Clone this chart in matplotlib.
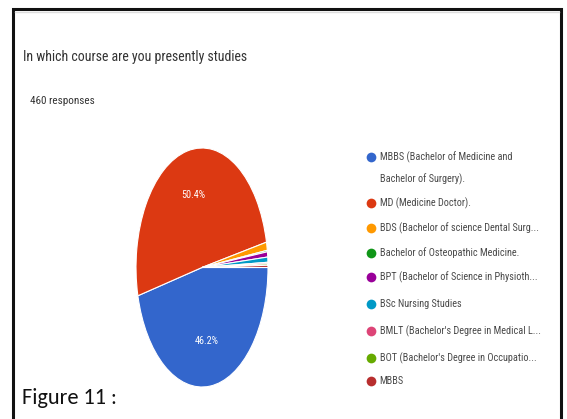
import math
import matplotlib.pyplot as plt

W, H = 567, 419

labels = [
    "MBBS (Bachelor of Medicine and\nBachelor of Surgery).",
    "MD (Medicine Doctor).",
    "BDS (Bachelor of science Dental Surg...",
    "Bachelor of Osteopathic Medicine.",
    "BPT (Bachelor of Science in Physioth...",
    "BSc Nursing Studies",
    "BMLT (Bachelor's Degree in Medical L...",
    "BOT (Bachelor's Degree in Occupatio...",
    "MBBS",
]
shares = [46.2, 50.4, 1.1, 0.2, 0.7, 0.7, 0.2, 0.2, 0.3]
colors = ["#3366CC", "#DC3912", "#FF9900", "#109618", "#990099",
          "#0099C6", "#DD4477", "#66AA00", "#B82E2E"]

plt.rcParams["font.family"] = ["Roboto Condensed", "Liberation Sans", "DejaVu Sans"]
CAPTION_FONT = ["Carlito", "Liberation Sans", "DejaVu Sans"]

fig = plt.figure(figsize=(W / 100, H / 100), dpi=100)
fig.patch.set_facecolor("white")

# full-figure axes in pixel units for frame, titles and legend
frame = fig.add_axes([0, 0, 1, 1])
frame.set_xlim(0, W)
frame.set_ylim(H, 0)
frame.axis("off")
frame.plot([13, 13, 561, 561], [H + 5, 9, 9, H + 5], color="#111111", lw=2.2,
           solid_joinstyle="miter")
frame.plot([15, 559], [12, 12], color="#dddddd", lw=1)

frame.text(23, 57, "In which course are you presently studies", fontsize=10,
           color="#333333", va="center", ha="left")
frame.text(30, 101, "460 responses", fontsize=8, color="#333333",
           va="center", ha="left")
frame.text(22, 398, "Figure 11 :", fontsize=16, color="#111111",
           va="center", ha="left", family=CAPTION_FONT)

# pie, stretched vertically
l, t, r, b = 136, 148, 268, 387
ax = fig.add_axes([l / W, 1 - b / H, (r - l) / W, (b - t) / H])
wedges, _ = ax.pie(shares, colors=colors, startangle=0, counterclock=False,
                   wedgeprops=dict(edgecolor="white", linewidth=0.8))
ax.set_aspect("auto")
ax.set_xlim(-1, 1)
ax.set_ylim(-1, 1)

# percentage labels on the two large slices
acc = 0
for s in shares:
    if s > 5:
        rad = math.radians(-(acc + s / 2) / 100 * 360)
        ax.text(0.62 * math.cos(rad), 0.62 * math.sin(rad), f"{s}%",
                color="white", fontsize=7.3, ha="center", va="center")
    acc += s

# legend
rows = [157, 203, 228, 253, 277, 304, 331, 358, 381]
for lab, c, y in zip(labels, colors, rows):
    frame.plot(371, y, "o", color=c, ms=7, mec="none")
    for k, line in enumerate(lab.split("\n")):
        frame.text(379.5, y + 22 * k, line, fontsize=7.4, color="#4a4a4a",
                   va="center", ha="left")

fig.savefig("out.png", dpi=100, facecolor="white")
